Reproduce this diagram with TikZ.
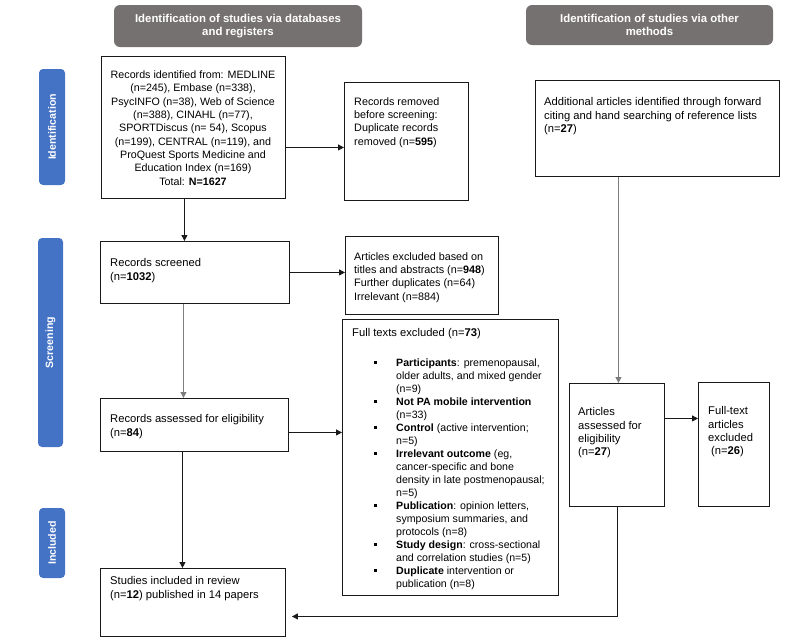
\documentclass[tikz,border=0pt]{standalone}
\usepackage{fontspec}
\setmainfont{Liberation Sans}
\usetikzlibrary{arrows.meta}
\definecolor{hdr}{RGB}{118,113,113}
\definecolor{side}{RGB}{68,114,196}
\definecolor{ln}{RGB}{25,25,25}
\definecolor{gln}{RGB}{125,125,125}
\newcommand{\pbul}{\makebox[22pt][l]{\rule[2.4pt]{3pt}{3pt}}}
\newcommand{\pind}{\hspace*{22pt}}
\begin{document}
\begin{tikzpicture}[x=1pt,y=-1pt,
  box/.style={draw=ln, line width=0.9pt, rectangle, inner sep=0pt, anchor=north west},
  txt/.style={anchor=north west, inner sep=0pt, align=left, font=\fontsize{11.2}{13.2}\selectfont},
  stxt/.style={txt, font=\fontsize{10.8}{13.2}\selectfont},
  hdrbox/.style={fill=hdr, rounded corners=6pt, text=white, align=center, inner sep=0pt,
    font=\bfseries\fontsize{11.4}{13.3}\selectfont},
  sidebox/.style={fill=side, rounded corners=4pt, text=white, inner sep=0pt, rotate=90,
    font=\bfseries\fontsize{10.6}{12}\selectfont},
  arr/.style={-{Triangle[length=6pt,width=6pt]}, line width=0.9pt, draw=ln},
  garr/.style={arr, draw=gln},
  plain/.style={line width=0.9pt, draw=ln}]
\path[use as bounding box] (0,0) rectangle (800,641);

% headers
\node[hdrbox, minimum width=248pt, minimum height=42pt] (h1) at (238,26)
  {Identification of studies via databases\\and registers};
\node[hdrbox, minimum width=247pt, minimum height=40pt] (h2) at (649.5,25)
  {Identification of studies via other\\methods};

% side labels
\node[sidebox, minimum width=116pt, minimum height=26pt] (s1) at (52,127) {Identification};
\node[sidebox, minimum width=209pt, minimum height=25pt] (s2) at (50.5,342.5) {Screening};
\node[sidebox, minimum width=70pt, minimum height=26pt] (s3) at (52,543) {Included};

% boxes
\node[box, minimum width=184pt, minimum height=142pt] (b1) at (101,56) {};
\node[align=center, inner sep=0pt, font=\fontsize{10.7}{13.3}\selectfont] (b1t) at (193,128)
  {Records identified from: MEDLINE\\(n=245), Embase (n=338),\\PsycINFO (n=38), Web of Science\\(n=388), CINAHL (n=77),\\SPORTDiscus (n= 54), Scopus\\(n=199), CENTRAL (n=119), and\\ProQuest Sports Medicine and\\Education Index (n=169)\\Total: \textbf{N=1627}};

\node[box, minimum width=124pt, minimum height=118pt] (brem) at (344,82) {};
\node[stxt] (bremt) at (354,97.5)
  {Records removed\\before screening:\\Duplicate records\\removed (n=\textbf{595})};

\node[box, minimum width=244pt, minimum height=96pt] (badd) at (535,80) {};
\node[txt] (baddt) at (544,97.5)
  {Additional articles identified through forward\\citing and hand searching of reference lists\\(n=\textbf{27})};

\node[box, minimum width=189pt, minimum height=62pt] (bscr) at (100,241) {};
\node[txt] (bscrt) at (110,258.5) {Records screened\\(n=\textbf{1032})};

\node[box, minimum width=153pt, minimum height=78pt] (bexc) at (345,236) {};
\node[stxt] (bexct) at (354,252.5)
  {Articles excluded based on\\titles and abstracts (n=\textbf{948})\\Further duplicates (n=64)\\Irrelevant (n=884)};

\node[box, minimum width=216pt, minimum height=276pt] (bft) at (342,319) {};
\node[txt] (bftt) at (352,328.5) {Full texts excluded (n=\textbf{73})};
\node[txt, font=\fontsize{10.6}{13}\selectfont] (bftl) at (374,358.5)
  {\pbul\textbf{Participants}: premenopausal,\\
   \pind older adults, and mixed gender\\
   \pind (n=9)\\
   \pbul\textbf{Not PA mobile intervention}\\
   \pind (n=33)\\
   \pbul\textbf{Control} (active intervention;\\
   \pind n=5)\\
   \pbul\textbf{Irrelevant outcome} (eg,\\
   \pind cancer-specific and bone\\
   \pind density in late postmenopausal;\\
   \pind n=5)\\
   \pbul\textbf{Publication}: opinion letters,\\
   \pind symposium summaries, and\\
   \pind protocols (n=8)\\
   \pbul\textbf{Study design}: cross-sectional\\
   \pind and correlation studies (n=5)\\
   \pbul\textbf{Duplicate} intervention or\\
   \pind publication (n=8)};

\node[box, minimum width=188pt, minimum height=53pt] (bass) at (100,398) {};
\node[txt] (basst) at (110,414.5) {Records assessed for eligibility\\(n=\textbf{84})};

\node[box, minimum width=185pt, minimum height=68pt] (bincl) at (100,568) {};
\node[txt] (bintl) at (110,576.5) {Studies included in review\\(n=\textbf{12}) published in 14 papers};

\node[box, minimum width=95pt, minimum height=123pt] (bart) at (569,383) {};
\node[txt] (bartt) at (578,407.5) {Articles\\assessed for\\eligibility\\(n=\textbf{27})};

\node[box, minimum width=71pt, minimum height=124pt] (bfte) at (698,382) {};
\node[txt] (bftet) at (708,406.5) {Full-text\\articles\\excluded\\\hspace*{3pt}(n=\textbf{26})};

% connectors
\draw[arr] ([yshift=-20pt]b1.east) -- ([yshift=-20pt]b1.east -| brem.west);
\draw[arr] ([xshift=-9pt]b1.south) -- ([xshift=-9pt]b1.south |- bscr.north);
\draw[arr] (bscr.east) -- (bscr.east -| bexc.west);
\draw[garr] ([xshift=-11.5pt]bscr.south) -- ([xshift=-11.5pt]bscr.south |- bass.north);
\draw[arr] ([yshift=-7.5pt]bass.east) -- ([yshift=-7.5pt]bass.east -| bft.west);
\draw[arr] ([xshift=-12pt]bass.south) -- ([xshift=-12pt]bass.south |- bincl.north);
\draw[garr] ([xshift=-39pt]badd.south) -- ([xshift=-39pt]badd.south |- bart.north);
\draw[arr] ([yshift=26.5pt]bart.east) -- ([yshift=26.5pt]bart.east -| bfte.west);
\coordinate (corner) at ([yshift=-14pt]bart.south |- bincl.east);
\draw[arr, shorten >=6pt] (bart.south) -- (corner) -- ([yshift=-14pt]bincl.east);
\end{tikzpicture}
\end{document}
